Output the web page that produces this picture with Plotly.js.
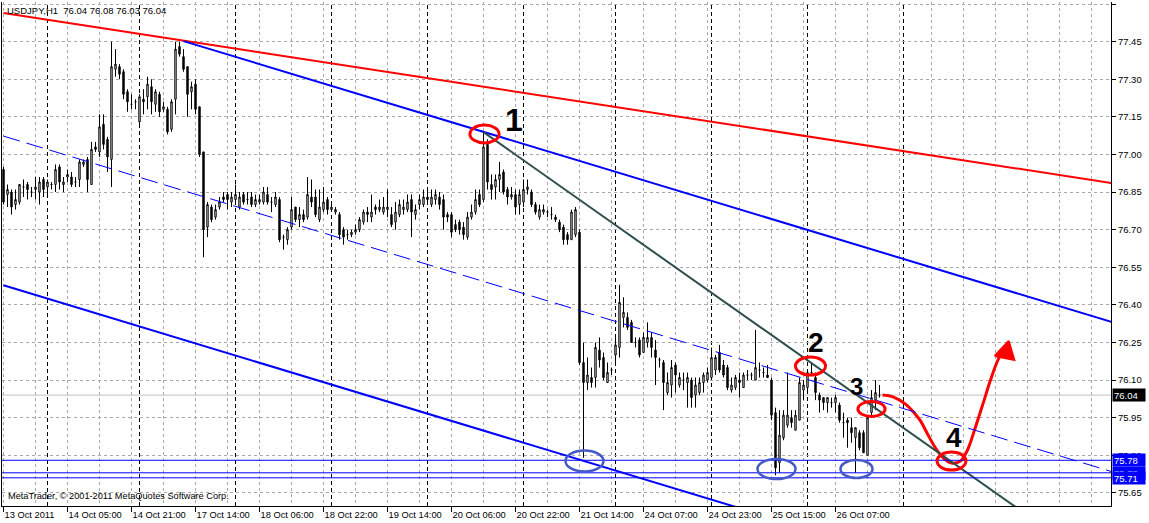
<!DOCTYPE html>
<html><head><meta charset="utf-8">
<script src="https://cdn.plot.ly/plotly-3.0.1.min.js"></script>
<style>html,body{margin:0;padding:0;background:#fff;}#chart{width:1149px;height:523px;}</style>
</head><body><div id="chart"></div>
<script>
// ---- OHLC data, USDJPY H1, bar 0 = 13 Oct 2011 13:00 ----
const openP = [
76.94,76.84,76.85,76.80,76.81,76.87,76.88,76.85,76.86,76.85,76.90,76.87,76.88,76.88,76.95,76.88,76.91,76.91,76.89,76.90,
76.96,76.98,76.88,77.03,77.01,77.12,77.06,76.98,77.34,77.35,77.33,77.25,77.20,77.21,77.13,77.22,77.23,77.27,77.20,77.24,
77.18,77.18,77.10,77.22,77.43,77.39,77.35,77.25,77.28,77.19,77.01,76.71,76.79,76.75,76.79,76.83,76.84,76.81,76.82,76.79,
76.84,76.82,76.83,76.80,76.81,76.81,76.84,76.81,76.80,76.82,76.67,76.66,76.71,76.79,76.74,76.76,76.75,76.83,76.83,76.74,
76.78,76.82,76.78,76.77,76.76,76.70,76.68,76.68,76.69,76.70,76.73,76.77,76.75,76.79,76.78,76.77,76.78,76.76,76.73,76.76,
76.78,76.78,76.82,76.76,76.80,76.80,76.83,76.80,76.82,76.83,76.82,76.76,76.76,76.72,76.73,76.71,76.67,76.75,76.77,76.84,
76.82,77.04,76.88,76.87,76.90,76.93,76.86,76.83,76.84,76.80,76.81,76.86,76.85,76.80,76.75,76.77,76.77,76.76,76.75,76.73,
76.71,76.68,76.66,76.68,76.69,76.17,76.09,76.11,76.11,76.22,76.19,76.09,76.14,76.20,76.23,76.35,76.35,76.33,76.25,76.26,
76.21,76.25,76.27,76.22,76.18,76.17,76.05,76.08,76.16,76.08,76.10,76.09,76.10,76.04,76.05,76.09,76.10,76.11,76.14,76.21,
76.16,76.15,76.06,76.07,76.10,76.07,76.12,76.12,76.10,76.14,76.13,76.12,76.10,75.97,75.77,75.87,75.92,75.95,75.90,75.94,
76.06,76.07,76.13,76.11,76.04,76.03,76.01,76.01,76.01,76.00,75.93,75.94,75.91,75.87,75.89,75.89,75.80,75.97,76.02,76.04];
const highP = [
76.95,76.88,76.86,76.86,76.88,76.90,76.89,76.87,76.91,76.91,76.91,76.90,76.89,76.96,76.96,76.91,76.94,76.93,76.91,76.98,
76.98,76.99,77.05,77.05,77.16,77.16,77.07,77.45,77.42,77.36,77.34,77.26,77.24,77.22,77.24,77.26,77.31,77.30,77.26,77.25,
77.21,77.19,77.22,77.45,77.45,77.42,77.35,77.29,77.30,77.19,77.01,76.81,76.80,76.80,76.83,76.85,76.85,76.85,76.88,76.85,
76.85,76.85,76.85,76.84,76.84,76.87,76.87,76.83,76.85,76.83,76.68,76.71,76.83,76.79,76.79,76.78,76.91,76.90,76.86,76.86,
76.87,76.83,76.81,76.79,76.77,76.71,76.70,76.70,76.72,76.75,76.78,76.79,76.84,76.80,76.82,76.83,76.86,76.79,76.81,76.82,
76.82,76.84,76.84,76.80,76.84,76.86,76.86,76.86,76.86,76.85,76.84,76.77,76.77,76.74,76.74,76.73,76.77,76.80,76.86,76.86,
77.09,77.06,76.92,76.92,76.97,76.94,76.87,76.87,76.86,76.86,76.90,76.90,76.86,76.81,76.80,76.80,76.78,76.79,76.76,76.74,
76.72,76.69,76.78,76.79,76.70,76.25,76.19,76.15,76.25,76.27,76.21,76.17,76.15,76.27,76.48,76.43,76.37,76.34,76.27,76.27,
76.29,76.33,76.29,76.26,76.19,76.18,76.13,76.18,76.17,76.13,76.13,76.13,76.11,76.11,76.11,76.13,76.15,76.23,76.20,76.24,
76.18,76.16,76.11,76.12,76.13,76.13,76.14,76.13,76.30,76.17,76.15,76.16,76.11,75.99,75.98,75.98,76.13,75.98,75.98,76.11,
76.10,76.13,76.17,76.13,76.05,76.03,76.03,76.03,76.04,76.01,75.97,75.95,75.95,75.91,75.90,75.90,75.96,76.06,76.10,76.08];
const lowP = [
76.80,76.79,76.76,76.78,76.80,76.83,76.82,76.83,76.82,76.80,76.83,76.83,76.86,76.85,76.86,76.85,76.89,76.87,76.87,76.87,
76.95,76.85,76.88,77.01,76.99,77.02,76.93,76.87,77.31,77.30,77.22,77.17,77.18,77.18,77.12,77.16,77.18,77.16,77.17,77.15,
77.17,77.08,77.09,77.16,77.39,77.33,77.15,77.18,77.16,76.99,76.59,76.67,76.73,76.74,76.78,76.81,76.78,76.79,76.80,76.78,
76.80,76.80,76.79,76.79,76.80,76.80,76.80,76.77,76.79,76.65,76.62,76.64,76.70,76.73,76.71,76.73,76.74,76.79,76.75,76.73,
76.77,76.76,76.77,76.76,76.66,76.64,76.66,76.67,76.68,76.69,76.72,76.73,76.73,76.76,76.77,76.76,76.75,76.71,76.70,76.75,
76.76,76.77,76.67,76.74,76.78,76.79,76.80,76.79,76.80,76.78,76.70,76.73,76.67,76.69,76.68,76.66,76.66,76.74,76.76,76.79,
76.81,76.86,76.82,76.82,76.85,76.84,76.80,76.82,76.76,76.76,76.79,76.84,76.79,76.76,76.74,76.76,76.75,76.74,76.73,76.69,
76.64,76.64,76.66,76.67,76.16,75.79,76.06,76.07,76.07,76.15,76.10,76.09,76.12,76.17,76.19,76.31,76.30,76.25,76.23,76.19,
76.21,76.23,76.19,76.08,76.15,75.98,76.04,76.03,76.05,76.07,76.06,75.99,75.99,75.99,76.04,76.05,76.09,76.11,76.12,76.13,
76.11,76.06,76.05,76.06,76.03,76.07,76.10,76.10,76.10,76.11,76.11,76.11,75.94,75.72,75.73,75.86,75.91,75.91,75.90,75.94,
76.02,76.05,76.12,76.02,75.97,75.98,75.97,75.99,75.97,75.93,75.87,75.83,75.85,75.73,75.82,75.81,75.80,75.96,75.98,76.03];
const closeP = [
76.81,76.86,76.79,76.82,76.88,76.87,76.86,76.85,76.87,76.89,76.86,76.89,76.88,76.94,76.89,76.89,76.92,76.88,76.89,76.97,
76.97,76.90,77.02,77.02,77.11,77.04,76.99,77.35,77.36,77.32,77.24,77.21,77.20,77.21,77.23,77.21,77.28,77.21,77.25,77.17,
77.19,77.09,77.21,77.42,77.40,77.34,77.24,77.27,77.18,77.00,76.70,76.80,76.74,76.78,76.81,76.82,76.82,76.83,76.84,76.83,
76.81,76.82,76.80,76.82,76.82,76.85,76.81,76.81,76.83,76.66,76.67,76.70,76.78,76.74,76.76,76.74,76.84,76.81,76.76,76.79,
76.81,76.78,76.79,76.78,76.68,76.67,76.68,76.69,76.70,76.74,76.77,76.76,76.77,76.78,76.79,76.79,76.79,76.72,76.77,76.80,
76.79,76.81,76.77,76.78,76.82,76.83,76.82,76.83,76.84,76.80,76.75,76.75,76.69,76.70,76.70,76.68,76.75,76.77,76.82,76.80,
77.03,76.89,76.86,76.90,76.92,76.85,76.83,76.84,76.79,76.84,76.86,76.87,76.80,76.77,76.78,76.78,76.77,76.76,76.74,76.70,
76.66,76.66,76.77,76.78,76.17,76.09,76.12,76.09,76.23,76.18,76.11,76.13,76.14,76.24,76.41,76.37,76.31,76.25,76.25,76.20,
76.27,76.27,76.23,76.19,76.18,76.09,76.09,76.15,76.12,76.11,76.10,76.11,76.03,76.08,76.09,76.12,76.13,76.19,76.19,76.14,
76.12,76.07,76.08,76.11,76.09,76.12,76.12,76.12,76.15,76.14,76.13,76.11,75.96,75.75,75.88,75.96,75.96,75.93,75.96,76.09,
76.08,76.13,76.13,76.05,76.02,76.01,76.03,76.01,76.03,75.94,75.93,75.93,75.89,75.91,75.83,75.81,75.95,76.03,76.05,76.04];
const barIndex = openP.map((_, i) => i);

// ---- axes ----
const tickIdx = [0,16,32,48,64,80,96,112,128,144,160,176,192,208];
const tickLabels = ["13 Oct 2011","14 Oct 05:00","14 Oct 21:00","17 Oct 14:00","18 Oct 06:00","18 Oct 22:00",
  "19 Oct 14:00","20 Oct 06:00","20 Oct 22:00","21 Oct 14:00","24 Oct 07:00","24 Oct 23:00","25 Oct 15:00","26 Oct 07:00"];
const priceTicks = [75.65,75.80,75.95,76.10,76.25,76.40,76.55,76.70,76.85,77.00,77.15,77.30,77.45,77.60];
const separatorIdx = [11,34,58,82,106,130,153,177,201,225];
const levelPrices = [75.78,75.73,75.71];
const lastPrice = 76.04;
const titleText = "USDJPY,H1  76.04 76.08 76.03 76.04";

// ---- drawn objects (bar index, price) ----
const redLine = [0, 77.564, 277, 76.886];
const upperChannel = [45, 77.452, 277, 76.332];
const midChannel = [0, 77.073, 277, 75.735];
const lowerChannel = [0, 76.478, 277, 75.140];
const trendLine = [120, 77.089, 253, 75.594];
const redEllipses = [[116.6,77.117,123.9,77.046],[198,76.192,205.5,76.120],[213.6,76.014,220.4,75.955],[233.4,75.813,240.6,75.741]];
const blueEllipses = [[140.5,75.819,150,75.735],[188.5,75.785,198,75.705],[209.25,75.781,217.25,75.709]];
const curveX = [219.75,222.5,225.5,227.5,229.25,231,233,235,237,239.25,241,243,245,246.75,248.5,250.25];
const curveY = [76.040,76.032,76.004,75.973,75.937,75.885,75.829,75.789,75.769,75.777,75.821,75.913,76.012,76.100,76.176,76.228];
const arrowX = [247.8, 251.3, 252.7, 247.8];
const arrowY = [76.196, 76.256, 76.180, 76.196];
const marks = [
  {t:"1", x:127.5, y:77.137, s:32},
  {t:"2", x:203, y:76.248, s:28},
  {t:"3", x:213.25, y:76.076, s:24},
  {t:"4", x:237.5, y:75.869, s:28}
];

const GRID = '#aaaaaa';
const FONT = 'Liberation Sans, Arial, sans-serif';

const shapes = [];
separatorIdx.forEach(i => shapes.push({type:'line', xref:'x', yref:'paper', x0:i, x1:i, y0:0, y1:1, layer:'below',
  line:{color:'#000', width:1, dash:'4px,3px'}}));
shapes.push({type:'line', xref:'paper', yref:'y', x0:0, x1:1, y0:lastPrice, y1:lastPrice, layer:'below', line:{color:'#c0c0c0', width:1}});
function seg(a, color, width, dash) {
  shapes.push({type:'line', xref:'x', yref:'y', x0:a[0], y0:a[1], x1:a[2], y1:a[3], line:{color:color, width:width, dash:dash||'solid'}});
}
seg(redLine, '#ff0000', 2);
seg(upperChannel, '#0000ff', 2);
seg(midChannel, '#0000ff', 1, '17px,7px');
seg(lowerChannel, '#0000ff', 2);
const tlSlope = (trendLine[3]-trendLine[1])/(trendLine[2]-trendLine[0]);
seg([trendLine[0], trendLine[1], trendLine[2]+6, trendLine[3]+6*tlSlope], '#2f4f4f', 2);
levelPrices.forEach(p => shapes.push({type:'line', xref:'paper', yref:'y', x0:0, x1:1, y0:p, y1:p, line:{color:'#0000ff', width:1}}));
blueEllipses.forEach(e => shapes.push({type:'circle', xref:'x', yref:'y', x0:e[0], y0:e[1], x1:e[2], y1:e[3], line:{color:'#4659c8', width:2.5}}));
redEllipses.forEach(e => shapes.push({type:'circle', xref:'x', yref:'y', x0:e[0], y0:e[1], x1:e[2], y1:e[3], line:{color:'#ff0000', width:3}}));

const annotations = [];
marks.forEach(m => annotations.push({xref:'x', yref:'y', x:m.x, y:m.y, text:m.t, showarrow:false,
  font:{family:FONT, size:m.s, color:'#000', weight:'bold'}, xanchor:'center', yanchor:'middle'}));
annotations.push({xref:'paper', yref:'paper', x:4/1109, y:10/504, xanchor:'left', yanchor:'middle', showarrow:false,
  text:'MetaTrader, © 2001-2011 MetaQuotes Software Corp.', font:{family:FONT, size:9.2, color:'#000'}});
function priceBox(p, bg, txt) {
  annotations.push({xref:'paper', yref:'y', x:1, y:p, xanchor:'left', yanchor:'middle', xshift:1, showarrow:false,
    text:txt, bgcolor:bg, borderpad:1, width:30, height:10, align:'left', font:{family:FONT, size:9.5, color:'#fff'}});
}
priceBox(lastPrice, '#000000', lastPrice.toFixed(2));
levelPrices.forEach(p => priceBox(p, '#0000ff', p.toFixed(2)));

const traces = [
  {type:'candlestick', x:barIndex, open:openP, high:highP, low:lowP, close:closeP,
   increasing:{line:{color:'#000', width:1}, fillcolor:'#ffffff'},
   decreasing:{line:{color:'#000', width:1}, fillcolor:'#000000'},
   whiskerwidth:0, hoverinfo:'skip', showlegend:false},
  {type:'scatter', mode:'lines', x:curveX, y:curveY, line:{color:'#ff0000', width:3, shape:'spline'}, hoverinfo:'skip', showlegend:false},
  {type:'scatter', mode:'lines', x:arrowX, y:arrowY, fill:'toself', fillcolor:'#ff0000', line:{color:'#ff0000', width:2}, hoverinfo:'skip', showlegend:false}
];

const layout = {
  width:1149, height:523,
  margin:{l:2, r:38, t:2, b:17, pad:0},
  paper_bgcolor:'#ffffff', plot_bgcolor:'#ffffff',
  showlegend:false, dragmode:false, boxgap:0.5,
  title:{text:titleText, x:7/1149, xref:'container', xanchor:'left', y:1-11/523, yref:'container', yanchor:'middle',
    font:{family:FONT, size:9.5, color:'#000'}},
  xaxis:{range:[-0.375, 276.875], tickmode:'array', tickvals:tickIdx, ticktext:tickLabels,
    ticks:'outside', ticklen:5, tickcolor:'#000', tickwidth:1,
    showline:true, linecolor:'#000', linewidth:1, zeroline:false,
    showgrid:true, gridcolor:GRID, gridwidth:1, griddash:'3px,3px',
    ticklabelposition:'outside right', tickfont:{family:FONT, size:9.3, color:'#000'},
    minor:{tickmode:'linear', tick0:0, dtick:8, showgrid:true, gridcolor:GRID, gridwidth:1, griddash:'3px,3px', ticks:''},
    rangeslider:{visible:false}, fixedrange:true},
  yaxis:{side:'right', range:[75.5976, 77.608], tickmode:'array', tickvals:priceTicks,
    ticktext:priceTicks.map(v => v.toFixed(2)),
    ticks:'outside', ticklen:4, tickcolor:'#000', tickwidth:1,
    showline:true, mirror:true, linecolor:'#000', linewidth:1, zeroline:false,
    showgrid:true, gridcolor:GRID, gridwidth:1, griddash:'3px,3px',
    tickfont:{family:FONT, size:9.5, color:'#000'}, fixedrange:true},
  shapes:shapes, annotations:annotations
};

Plotly.newPlot('chart', traces, layout, {staticPlot:true, displayModeBar:false});
</script></body></html>
